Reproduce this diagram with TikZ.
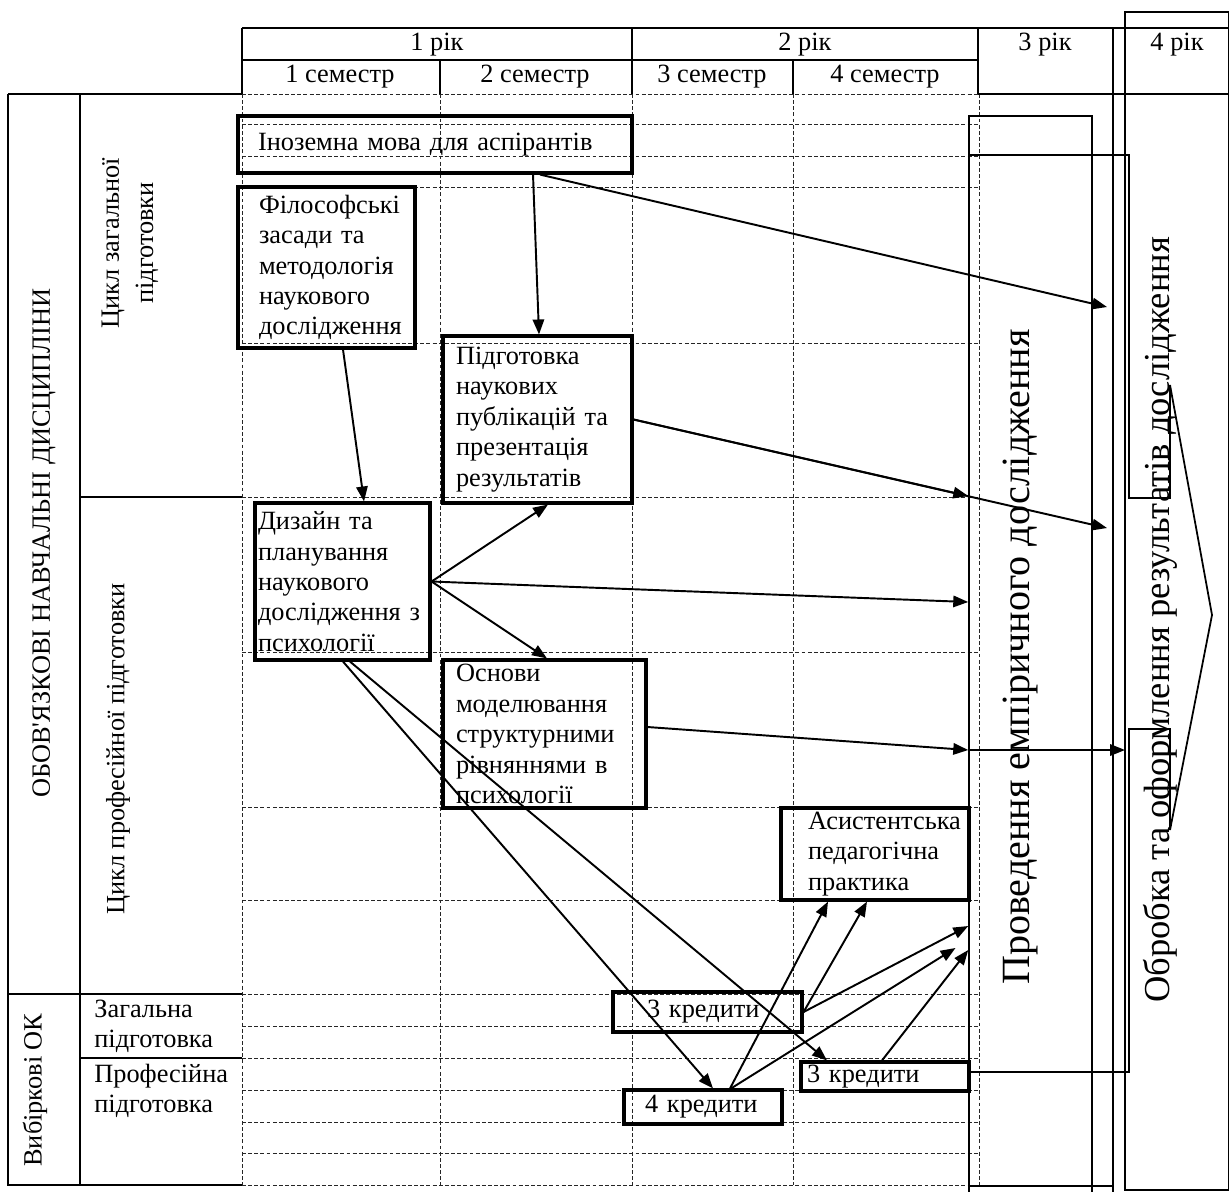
\documentclass[tikz,border=0pt]{standalone}
\usepackage{fontspec}
\setmainfont{Liberation Serif}
\usetikzlibrary{arrows.meta,calc}
\begin{document}
\begin{tikzpicture}[x=0.02cm,y=-0.02cm,
  grid/.style={line width=0.55pt, dash pattern=on 2.2pt off 1.3pt, black!85},
  hline/.style={line width=1.1pt},
  tline/.style={line width=1pt},
  box/.style={draw, line width=1.8pt, align=left, inner ysep=0pt, font=\fontsize{15}{17.3}\selectfont},
  conn/.style={line width=1.1pt, -{Triangle[length=8.5pt,width=6.5pt]}},
  lbl/.style={font=\fontsize{15}{17.3}\selectfont, inner sep=0pt},
  big/.style={inner sep=0pt, rotate=90},
]
\useasboundingbox (0,0) rectangle (1229,1191);

% dashed grid
\foreach \x in {242,440,632,793,979} \draw[grid] (\x,94) -- (\x,1185);
\foreach \y in {94,124,156,187,343,497,652,807,900,994,1026,1058,1090,1122,1153,1185} \draw[grid] (242,\y) -- (979,\y);

% header
\draw[hline] (242,28) -- (1229,28);
\draw[hline] (242,60) -- (978,60);
\draw[hline] (242,28) -- (242,94);
\draw[hline] (440,60) -- (440,94) (632,28) -- (632,94) (793,60) -- (793,94) (978,28) -- (978,94);
\draw[hline] (978,94) -- (1229,94);
\draw[line width=1.5pt] (1113,28) -- (1113,1195);
\draw[tline] (1125,12) rectangle (1228.5,1190);
\draw[hline] (969,1186) -- (1113,1186);

\node[lbl] (y1) at (437,45) {1 рік};
\node[lbl] (y2) at (805,45) {2 рік};
\node[lbl] (y3) at (1045,45) {3 рік};
\node[lbl] (y4) at (1177,45) {4 рік};
\node[lbl] (s1) at (340,77) {1 семестр};
\node[lbl] (s2) at (535,77) {2 семестр};
\node[lbl] (s3) at (712,77) {3 семестр};
\node[lbl] (s4) at (885,77) {4 семестр};

% left table
\draw[line width=1.2pt] (8,94) -- (242,94) (8,94) -- (8,1185) -- (242,1185) (80,94) -- (80,1185)
  (80,497) -- (242,497) (8,994) -- (242,994) (80,1058) -- (242,1058);

\node[lbl, rotate=90] (oblig) at (44,543) {ОБОВ{\fontspec{Liberation Serif}'}ЯЗКОВІ НАВЧАЛЬНІ ДИСЦИПЛІНИ};
\node[lbl, rotate=90, align=center, font=\fontsize{15}{19.5}\selectfont] (czag) at (130,243) {Цикл загальної\\підготовки};
\node[lbl, rotate=90] (cprof) at (118,749) {Цикл професійної підготовки};
\node[lbl, rotate=90] (vyb) at (35,1090) {Вибіркові ОК};
\node[lbl, align=left, anchor=west] (zag) at (94,1026) {Загальна\\підготовка};
\node[lbl, align=left, anchor=west] (prof) at (94,1091) {Професійна\\підготовка};

% big boxes
\node[draw, line width=0.9pt, minimum width=2.46cm, minimum height=21.76cm, inner sep=0pt] (prov) at (1030.5,660) {};
\node[big, font=\fontsize{22.8}{26}\selectfont] (provt) at (1020,657) {Проведення емпіричного дослідження};
\draw[tline] (969,155) -- (1129,155) -- (1129,498) -- (1170,498) -- (1170,385) -- (1212,615)
  -- (1170,830) -- (1170,729) -- (1129,729) -- (1129,1072) -- (969,1072) -- cycle;
\node[big, font=\fontsize{20.8}{24}\selectfont] (obrt) at (1160,620) {Обробка та оформлення результатів дослідження};
\coordinate (o1) at (1107,307);
\coordinate (o2) at (1107,528);
\coordinate (o3) at (1125,750);

% course boxes
\node[box, minimum width=7.88cm, minimum height=1.14cm, text width=7.08cm, inner xsep=0.4cm] (ino) at (435,144.5) {Іноземна мова для аспірантів};
\node[box, minimum width=3.54cm, minimum height=3.22cm, text width=2.7cm, inner xsep=0.42cm] (fil) at (326.5,267.5) {Філософські\\засади та\\методологія\\наукового\\дослідження};
\node[box, minimum width=3.78cm, minimum height=3.34cm, text width=3.26cm, inner xsep=0.26cm] (pid) at (537.5,419.5) {Підготовка\\наукових\\публікацій та\\презентація\\результатів};
\node[box, minimum width=3.5cm, minimum height=3.14cm, text width=3.38cm, inner xsep=0.06cm] (diz) at (342.5,581.5) {Дизайн та\\планування\\наукового\\дослідження з\\психології};
\node[box, minimum width=4.06cm, minimum height=2.96cm, text width=3.54cm, inner xsep=0.26cm] (osn) at (544.5,734) {Основи\\моделювання\\структурними\\рівняннями в\\психології};
\node[box, minimum width=3.76cm, minimum height=1.84cm, text width=2.68cm, inner xsep=0.54cm] (asy) at (875,854) {Асистентська\\педагогічна\\практика};
\node[box, minimum width=3.78cm, minimum height=0.8cm, text width=2.42cm, inner xsep=0.68cm] (k3a) at (707.5,1012) {3 кредити};
\node[box, minimum width=3.16cm, minimum height=0.68cm, text width=2.32cm, inner xsep=0.42cm] (k4) at (703,1107) {4 кредити};
\node[box, minimum width=3.36cm, minimum height=0.58cm, text width=3.12cm, inner xsep=0.12cm] (k3b) at (885,1076.5) {3 кредити};

% connectors
\draw[conn] (ino.south -| 533,0) -- (pid.north -| 539,0);
\draw[conn] (ino.south -| 540,0) -- (o1);
\draw[conn] (fil.south -| 343,0) -- (diz.north -| 364,0);
\draw[conn] (pid.east) -- (prov.west |- 0,496);
\draw[conn] (pid.east) -- (o2);
\draw[conn] (diz.east) -- (pid.south -| 548,0);
\draw[conn] (diz.east) -- (prov.west |- 0,602);
\draw[conn] (diz.east) -- (osn.north -| 547,0);
\draw[conn] (diz.south -| 343,0) -- (k4.north -| 713,0);
\draw[conn] (diz.south -| 350,0) -- (k3b.north -| 827,0);
\draw[conn] (osn.east |- 0,727) -- (prov.west |- 0,750);
\draw[conn] (prov.west |- 0,750) -- (o3);
\draw[conn] (k4.north -| 730,0) -- (asy.south -| 828,0);
\draw[conn] (k3a.east) -- (asy.south -| 867,0);
\draw[conn] (k3a.east) -- (prov.west |- 0,926);
\draw[conn, shorten >=0.3cm] (k4.north -| 731,0) -- (prov.west |- 0,940);
\draw[conn] (k3b.north -| 882,0) -- (prov.west |- 0,950);
\end{tikzpicture}
\end{document}
